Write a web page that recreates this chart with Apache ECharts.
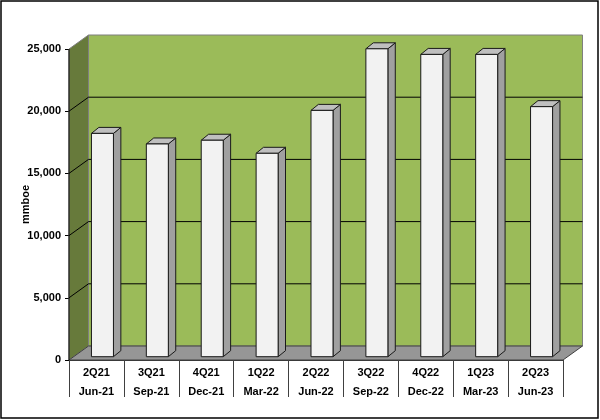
<!DOCTYPE html>
<html>
<head>
<meta charset="utf-8">
<script src="https://cdn.jsdelivr.net/npm/echarts@6/dist/echarts.min.js"></script>
<style>
  html, body { margin: 0; padding: 0; background: #fff; }
  #chart { width: 600px; height: 420px; }
</style>
</head>
<body>
<div id="chart"></div>
<script>
// quarters + month labels for the category axis
const quarters = ['2Q21', '3Q21', '4Q21', '1Q22', '2Q22', '3Q22', '4Q22', '1Q23', '2Q23'];
const months = ['Jun-21', 'Sep-21', 'Dec-21', 'Mar-22', 'Jun-22', 'Sep-22', 'Dec-22', 'Mar-23', 'Jun-23'];
// production, mmboe
const production = [17950, 17100, 17400, 16350, 19800, 24750, 24300, 24300, 20100];
const yTicks = [0, 5000, 10000, 15000, 20000, 25000];

// fake 3d depth (pixels)
const WALL_DX = 19.5, WALL_DY = -14;
const BAR_FX = 6, BAR_FY = -3.3, BAR_W = 22, BAR_DX = 7.4, BAR_DY = -6;

const font = 'Arial, "Liberation Sans", sans-serif';

function line(x1, y1, x2, y2, color) {
  return {
    type: 'line',
    shape: { x1: x1, y1: y1, x2: x2, y2: y2 },
    style: { stroke: color, lineWidth: 1 }
  };
}

function renderWalls(params, api) {
  const cs = params.coordSys;
  const x0 = cs.x, x1 = cs.x + cs.width;
  const yTop = cs.y, yBot = cs.y + cs.height;
  const children = [];
  // back wall
  children.push({
    type: 'rect',
    shape: { x: x0 + WALL_DX, y: yTop + WALL_DY, width: cs.width, height: cs.height },
    style: { fill: '#9bbb59', stroke: '#7f7f7f', lineWidth: 1 }
  });
  // left wall
  children.push({
    type: 'polygon',
    shape: { points: [[x0, yTop], [x0 + WALL_DX, yTop + WALL_DY], [x0 + WALL_DX, yBot + WALL_DY], [x0, yBot]] },
    style: { fill: '#677a3b', stroke: '#7f7f7f', lineWidth: 1 }
  });
  // gridlines on both walls
  yTicks.forEach(function (v) {
    if (v === 0 || v === yTicks[yTicks.length - 1]) return;
    const y = api.coord([0, v])[1];
    children.push(line(x0, y, x0 + WALL_DX, y + WALL_DY, '#000'));
    children.push(line(x0 + WALL_DX, y + WALL_DY, x1 + WALL_DX, y + WALL_DY, '#000'));
  });
  // floor
  children.push({
    type: 'polygon',
    shape: { points: [[x0, yBot], [x1, yBot], [x1 + WALL_DX, yBot + WALL_DY], [x0 + WALL_DX, yBot + WALL_DY]] },
    style: { fill: '#969696', stroke: '#404040', lineWidth: 1 }
  });
  children.push(line(x0, yTop, x0, yBot, '#000'));
  return { type: 'group', children: children };
}

function renderBar(params, api) {
  const top = api.coord([api.value(0), api.value(1)]);
  const base = api.coord([api.value(0), 0]);
  const xl = top[0] + BAR_FX - BAR_W / 2;
  const xr = xl + BAR_W;
  const yt = top[1] + BAR_FY;
  const yb = base[1] + BAR_FY;
  const edge = { stroke: '#1a1a1a', lineWidth: 1 };
  return {
    type: 'group',
    children: [
      {
        type: 'polygon',
        shape: { points: [[xr, yt], [xr + BAR_DX, yt + BAR_DY], [xr + BAR_DX, yb + BAR_DY], [xr, yb]] },
        style: Object.assign({ fill: '#a0a0a0' }, edge)
      },
      {
        type: 'polygon',
        shape: { points: [[xl, yt], [xl + BAR_DX, yt + BAR_DY], [xr + BAR_DX, yt + BAR_DY], [xr, yt]] },
        style: Object.assign({ fill: '#bfbfbf' }, edge)
      },
      {
        type: 'rect',
        shape: { x: xl, y: yt, width: BAR_W, height: yb - yt },
        style: Object.assign({ fill: '#f2f2f2' }, edge)
      }
    ]
  };
}

const chart = echarts.init(document.getElementById('chart'));
chart.setOption({
  animation: false,
  backgroundColor: '#fff',
  graphic: [{
    type: 'rect',
    shape: { x: 1, y: 1, width: 597, height: 417 },
    style: { fill: null, stroke: '#000', lineWidth: 1.5 },
    z: 100
  }],
  grid: { left: 69, right: 37, top: 49, bottom: 60 },
  xAxis: {
    type: 'category',
    data: quarters,
    axisLine: { show: true, lineStyle: { color: '#333' } },
    axisTick: { show: true, interval: 0, length: 37, lineStyle: { color: '#404040' } },
    axisLabel: {
      interval: 0,
      margin: 3,
      lineHeight: 19,
      fontFamily: font,
      fontSize: 11,
      fontWeight: 'bold',
      color: '#000',
      formatter: function (val, idx) { return quarters[idx] + '\n' + months[idx]; }
    }
  },
  yAxis: {
    type: 'value',
    min: 0,
    max: 25000,
    interval: 5000,
    name: 'mmboe',
    nameLocation: 'middle',
    nameRotate: 90,
    nameGap: 38,
    nameMoveOverlap: false,
    nameTextStyle: { fontFamily: font, fontSize: 11, fontWeight: 'bold', color: '#000' },
    axisLine: { show: true, lineStyle: { color: '#000' } },
    axisTick: { show: true, length: 4, lineStyle: { color: '#000' } },
    splitLine: { show: false },
    axisLabel: {
      margin: 8,
      fontFamily: font,
      fontSize: 11,
      fontWeight: 'bold',
      color: '#000',
      formatter: function (v) { return v.toLocaleString('en-US'); }
    }
  },
  series: [
    {
      type: 'custom',
      renderItem: renderWalls,
      data: [[0, 0]],
      silent: true,
      z: 1
    },
    {
      type: 'custom',
      renderItem: renderBar,
      data: production.map(function (v, i) { return [i, v]; }),
      z: 3
    }
  ]
});
</script>
</body>
</html>
